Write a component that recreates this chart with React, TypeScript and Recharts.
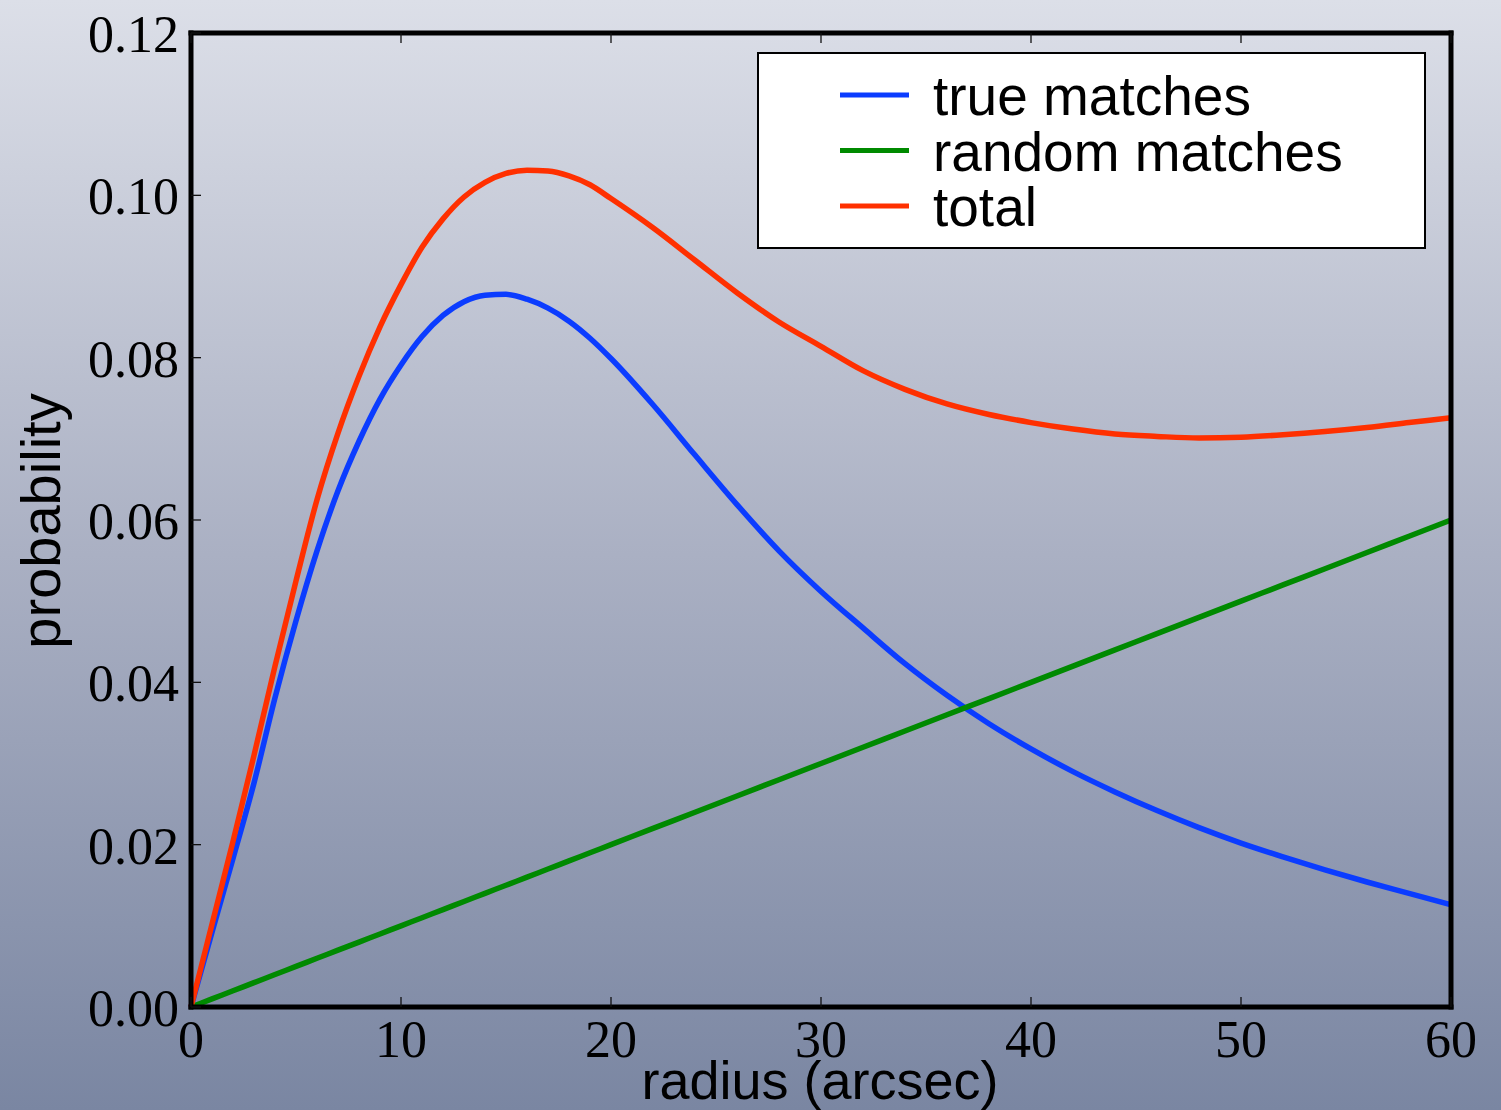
import { LineChart, Line, XAxis, YAxis, Legend } from "recharts";

// radius (arcsec)
const radius = [
  0, 1, 2, 3, 4, 5, 6, 7, 8, 9, 10, 11, 12, 13, 14, 15, 16, 17, 18, 19, 20,
  22, 24, 26, 28, 30, 32, 34, 36, 38, 40, 42, 44, 46, 48, 50, 52, 54, 56, 58, 60,
];

const trueMatches = [
  0, 0.0092, 0.0183, 0.0276, 0.0381, 0.0476, 0.0562, 0.0636, 0.0697, 0.0749, 0.0791,
  0.0826, 0.0852, 0.0869, 0.0877, 0.0878, 0.0872, 0.0861, 0.0845, 0.0824, 0.0799,
  0.0742, 0.0680, 0.0619, 0.0562, 0.0512, 0.0467, 0.0423, 0.0384, 0.0349, 0.0318,
  0.0290, 0.0265, 0.0242, 0.0221, 0.0202, 0.0185, 0.0169, 0.0154, 0.0140, 0.0126,
];

const randomMatches = [
  0, 0.001, 0.002, 0.003, 0.004, 0.005, 0.006, 0.007, 0.008, 0.009, 0.010,
  0.011, 0.012, 0.013, 0.014, 0.015, 0.016, 0.017, 0.018, 0.019, 0.020,
  0.022, 0.024, 0.026, 0.028, 0.030, 0.032, 0.034, 0.036, 0.038, 0.040,
  0.042, 0.044, 0.046, 0.048, 0.050, 0.052, 0.054, 0.056, 0.058, 0.060,
];

const total = [
  0, 0.0102, 0.0204, 0.0310, 0.0420, 0.0525, 0.0625, 0.0707, 0.0777, 0.0838, 0.0890,
  0.0936, 0.0971, 0.0998, 0.1016, 0.1027, 0.1031, 0.1030, 0.1024, 0.1013, 0.0996,
  0.0960, 0.0920, 0.0880, 0.0844, 0.0814, 0.0784, 0.0761, 0.0743, 0.0730, 0.0720,
  0.0712, 0.0706, 0.0703, 0.0701, 0.0702, 0.0705, 0.0709, 0.0714, 0.0720, 0.0726,
];

const xTicks = [0, 10, 20, 30, 40, 50, 60];
const yTicks = [0, 0.02, 0.04, 0.06, 0.08, 0.1, 0.12];
const legendOrder = ["true matches", "random matches", "total"];

const data = radius.map((r, i) => ({
  radius: r,
  trueMatches: trueMatches[i],
  randomMatches: randomMatches[i],
  total: total[i],
}));

const PLOT = { left: 191, right: 1451, top: 33, bottom: 1007 };
const TICK_LEN = 10;
const SERIF = "'Liberation Serif', serif";
const SANS = "'Liberation Sans', Arial, sans-serif";
const frame = { stroke: "#000", strokeWidth: 5, strokeLinecap: "square" as const };

const LeftTick = ({ y, payload }: any) => (
  <g>
    <line x1={PLOT.left} x2={PLOT.left + TICK_LEN} y1={y} y2={y} stroke="#111" strokeWidth={1.3} />
    <text x={179} y={y + 19} textAnchor="end" fontFamily={SERIF} fontSize={52} fill="#000">
      {payload.value.toFixed(2)}
    </text>
  </g>
);

const RightTick = ({ y }: any) => (
  <line x1={PLOT.right - TICK_LEN} x2={PLOT.right} y1={y} y2={y} stroke="#111" strokeWidth={1.3} />
);

const BottomTick = ({ x, payload }: any) => (
  <g>
    <line x1={x} x2={x} y1={PLOT.bottom} y2={PLOT.bottom - TICK_LEN} stroke="#111" strokeWidth={1.3} />
    <text x={x} y={1057} textAnchor="middle" fontFamily={SERIF} fontSize={52} fill="#000">
      {payload.value}
    </text>
  </g>
);

const TopTick = ({ x }: any) => (
  <line x1={x} x2={x} y1={PLOT.top} y2={PLOT.top + TICK_LEN} stroke="#111" strokeWidth={1.3} />
);

const LegendBox = ({ payload }: any) => {
  const items = [...(payload || [])].sort(
    (a: any, b: any) => legendOrder.indexOf(a.value) - legendOrder.indexOf(b.value)
  );
  return (
    <svg width={669} height={197} style={{ display: "block" }}>
      <rect x={1} y={1} width={667} height={195} fill="#fff" stroke="#000" strokeWidth={2} />
      {items.map((entry: any, i: number) => (
        <g key={entry.value}>
          <line x1={83} x2={152} y1={43 + i * 55.5} y2={43 + i * 55.5} stroke={entry.color} strokeWidth={5} />
          <text x={176} y={63 + i * 55.5} fontFamily={SANS} fontSize={55} fill="#000">
            {entry.value}
          </text>
        </g>
      ))}
    </svg>
  );
};

export default function App() {
  return (
    <div
      style={{
        position: "absolute",
        left: 0,
        top: 0,
        width: 1501,
        height: 1110,
        background: "linear-gradient(to bottom, #dcdfe8 0%, #aab0c3 50%, #7a86a2 100%)",
      }}
    >
      <LineChart width={1501} height={1110} data={data} margin={{ top: 32, right: 49, bottom: 43, left: 111 }}>
        <XAxis
          dataKey="radius"
          type="number"
          domain={[0, 60]}
          ticks={xTicks}
          height={60}
          axisLine={frame}
          tickLine={false}
          tick={BottomTick}
          interval={0}
        />
        <XAxis
          xAxisId="top"
          orientation="top"
          dataKey="radius"
          type="number"
          domain={[0, 60]}
          ticks={xTicks}
          height={1}
          axisLine={frame}
          tickLine={false}
          tick={TopTick}
          interval={0}
        />
        <YAxis
          type="number"
          domain={[0, 0.12]}
          ticks={yTicks}
          width={80}
          axisLine={frame}
          tickLine={false}
          tick={LeftTick}
          interval={0}
        />
        <YAxis
          yAxisId="right"
          orientation="right"
          type="number"
          domain={[0, 0.12]}
          ticks={yTicks}
          width={1}
          axisLine={frame}
          tickLine={false}
          tick={RightTick}
          interval={0}
        />
        <Legend
          layout="vertical"
          align="center"
          verticalAlign="middle"
          content={LegendBox}
          wrapperStyle={{ position: "absolute", left: 757, top: 52, width: 669, height: 197 }}
        />
        <Line
          name="true matches"
          dataKey="trueMatches"
          type="monotone"
          stroke="#0b3cff"
          strokeWidth={5.5}
          dot={false}
          isAnimationActive={false}
        />
        <Line
          name="random matches"
          dataKey="randomMatches"
          type="monotone"
          stroke="#008a00"
          strokeWidth={5.5}
          dot={false}
          isAnimationActive={false}
        />
        <Line
          name="total"
          dataKey="total"
          type="monotone"
          stroke="#ff3000"
          strokeWidth={5.5}
          dot={false}
          isAnimationActive={false}
        />
      </LineChart>
      <svg width={1501} height={1110} style={{ position: "absolute", left: 0, top: 0, pointerEvents: "none" }}>
        <text
          transform="translate(60, 521) rotate(-90)"
          textAnchor="middle"
          fontFamily={SANS}
          fontSize={56}
          fill="#000"
        >
          probability
        </text>
        <text x={820} y={1099} textAnchor="middle" fontFamily={SANS} fontSize={54} fill="#000">
          radius (arcsec)
        </text>
      </svg>
    </div>
  );
}
